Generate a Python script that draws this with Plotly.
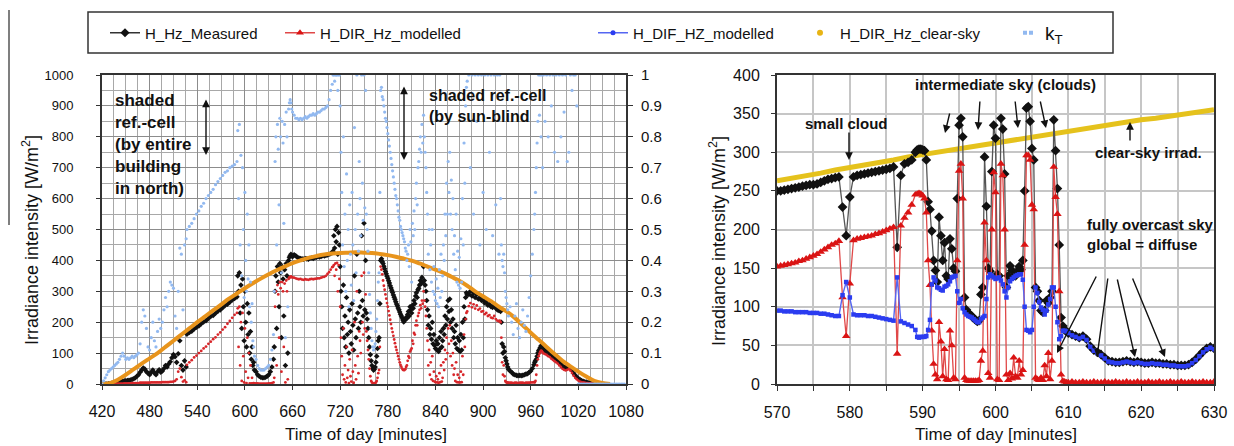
import plotly.graph_objects as go

W, H = 1234, 446
FONT = "Arial, 'Liberation Sans', sans-serif"
INK = "#111111"


def px(x):
    return x / W


def py(y):
    return 1 - y / H


# ---------------- whole day (left panel) ----------------
# sampling instants [min]; finer where the sky changes quickly
day_t = (list(range(420, 527, 2)) + list(range(527, 588, 3)) + list(range(590, 613))
         + list(range(614, 637, 2)) + list(range(637, 661)) + list(range(662, 711, 2))
         + list(range(711, 801)) + list(range(801, 881)) + list(range(882, 921, 2))
         + list(range(921, 933)) + list(range(934, 965, 2)) + list(range(965, 977))
         + list(range(978, 1079, 2)))

# measured global horizontal irradiance [W/m2]
day_meas = [
    0, 0, 0, 0, 1, 1, 2, 3, 4, 5, 6, 7, 8, 9, 10, 10, 11, 12, 13, 15,
    17, 20, 25, 30, 38, 45, 52, 48, 40, 35, 30, 38, 45, 36, 30, 40, 46, 38, 42, 50,
    60, 55, 65, 72, 85, 95, 88, 70, 98, 140, 60, 45, 75, 55,
    161, 167, 171, 178, 184, 188, 195, 201, 205, 212, 219, 222, 229, 236, 240, 247, 254, 258, 265, 272, 277,
    282, 350, 300, 360, 230, 320, 180, 340, 250, 140, 300, 200, 120, 260, 160, 230, 100, 170, 80, 120, 60, 70, 45,
    40, 30, 25, 22, 20, 20, 22, 25, 30, 40, 55, 80,
    120, 300, 350, 180, 380, 330, 250, 390, 360, 150, 380, 340, 220, 370, 60, 390, 350, 100, 400, 410, 415, 420, 415, 412,
    418, 415, 410, 408, 406, 405, 404, 406, 405, 404, 407, 408, 406, 409, 410, 412, 411, 413, 415, 414, 416, 418, 420, 422, 425,
    430, 480, 440, 500, 460, 510, 420, 490, 450, 380,
    300, 250, 180, 320, 150, 220, 120, 280, 160, 200,
    100, 240, 170, 130, 260, 190, 110, 350, 210, 150,
    420, 230, 180, 300, 250, 200, 480, 270, 220, 520,
    240, 400, 230, 210, 180, 150, 120, 95, 75, 60,
    50, 45, 48, 55, 70, 90, 115, 140, 150, 260,
    400, 405, 396, 390, 381, 373, 364, 357, 349, 342,
    334, 327, 318, 311, 303, 296, 288, 281, 274, 266,
    259, 253, 246, 240, 233, 226, 220, 214, 207, 201,
    205, 210, 215, 212, 225, 235, 220, 250, 240, 230,
    255, 245, 270, 260, 285, 295, 280, 305, 310, 320,
    335, 325, 345, 330, 380, 335, 320, 300, 270, 240,
    190, 220, 160, 180, 145, 200, 130, 160, 125, 115,
    140, 110, 130, 105, 150, 115, 170, 120, 140, 180,
    160, 220, 190, 250, 210, 270, 235, 275, 200, 240,
    180, 210, 150, 170, 130, 190, 115, 150, 110, 140,
    105, 160, 110, 200, 150, 250, 210, 280, 295, 290,
    290, 300, 285, 295, 280, 290, 275, 280, 270, 272, 262, 265, 255, 258, 250, 248, 255, 245, 240, 238,
    240, 235, 200, 130, 100, 120, 105, 85, 75, 65, 55, 48,
    42, 38, 32, 30, 28, 27, 28, 27, 28, 30, 32, 33, 38, 42, 50, 62,
    70, 75, 80, 90, 100, 108, 112, 118, 124, 122, 116, 112,
    108, 104, 100, 97, 92, 88, 84, 80, 76, 70, 64, 58, 55, 53, 55, 57, 52, 45, 35, 28,
    22, 18, 14, 11, 9, 7, 6, 5, 4, 3, 3, 2, 2, 1, 1, 1,
] + [None] * 15

# modelled direct horizontal irradiance [W/m2]
day_dir = [
    0, 0, 0, 0, 0, 0, 0, 0, 0, 0, 1, 1, 1, 1, 2, 2, 2, 2, 2, 3,
    3, 3, 3, 3, 4, 4, 4, 4, 4, 4, 4, 5, 5, 5, 5, 5, 5, 5, 6, 6,
    6, 6, 6, 7, 7, 8, 10, 15, 40, 50, 22, 8, 12, 6,
    62, 70, 77, 86, 92, 100, 107, 115, 121, 130, 137, 145, 151, 160, 167, 176, 184, 195, 204, 214, 224,
    230, 245, 120, 250, 60, 200, 10, 230, 90, 5, 180, 40, 3, 150, 20, 100, 2, 60, 2, 20, 2, 3, 2,
    2, 2, 1, 1, 1, 1, 1, 1, 2, 2, 3, 5,
    20, 250, 300, 60, 320, 290, 150, 330, 310, 40, 330, 300, 120, 325, 5, 335, 300, 15, 340, 345, 345, 348, 346, 345,
    344, 342, 340, 339, 340, 338, 337, 339, 338, 337, 339, 340, 339, 340, 341, 342, 342, 344, 346, 347, 350, 356, 362, 370, 378,
    380, 385, 350, 390, 370, 392, 300, 385, 340, 250,
    150, 90, 30, 180, 15, 60, 5, 120, 20, 45,
    3, 80, 25, 8, 110, 40, 4, 200, 60, 15,
    300, 90, 35, 170, 140, 100, 350, 200, 160, 360,
    180, 290, 170, 140, 110, 80, 50, 25, 10, 5,
    3, 2, 2, 3, 5, 10, 20, 35, 45, 120,
    380, 370, 355, 335, 318, 305, 290, 276, 262, 250,
    236, 222, 208, 194, 180, 168, 156, 144, 132, 120,
    110, 100, 90, 80, 70, 62, 56, 50, 46, 45,
    45, 48, 55, 60, 75, 90, 85, 105, 110, 115,
    140, 130, 165, 160, 190, 205, 190, 220, 230, 240,
    255, 245, 270, 260, 300, 270, 250, 220, 180, 140,
    60, 110, 30, 70, 15, 90, 10, 40, 8, 6,
    25, 5, 15, 4, 35, 6, 60, 8, 20, 70,
    45, 110, 80, 150, 100, 180, 130, 190, 90, 140,
    60, 100, 30, 50, 10, 70, 6, 30, 5, 20,
    5, 40, 6, 90, 30, 160, 120, 210, 230, 235,
    252, 262, 248, 258, 244, 254, 240, 244, 234, 236, 226, 230, 220, 223, 215, 213, 220, 210, 205, 203,
    205, 200, 150, 70, 30, 60, 25, 10, 6, 5, 4, 4,
    4, 4, 3, 4, 4, 3, 4, 4, 4, 3, 4, 4, 4, 5, 5, 6,
    5, 10, 30, 60, 80, 90, 98, 104, 108, 106, 102, 99,
    97, 94, 90, 87, 82, 78, 74, 70, 66, 60, 55, 49, 46, 44, 46, 48, 43, 36, 27, 20,
    15, 11, 8, 6, 5, 4, 3, 3, 2, 2, 1, 1, 1, 0, 0, 0,
] + [None] * 15

# clearness index k_T [-]
day_kt = [
    0.00, 0.01, 0.02, 0.03, 0.04, 0.045, 0.05, 0.055, 0.06, 0.065,
    0.07, 0.08, 0.09, 0.10, 0.09, 0.08, 0.085, 0.08, 0.085, 0.09,
    0.085, 0.09, 0.095, 0.10, 0.13, 0.20, 0.24, 0.22, 0.18, 0.12,
    0.11, 0.15, 0.20, 0.14, 0.12, 0.17, 0.21, 0.18, 0.20, 0.24,
    0.28, 0.25, 0.30, 0.33, 0.32, 0.31, 0.22, 0.18, 0.30, 0.44,
    0.42, 0.24, 0.45, 0.47,
    0.50, 0.51, 0.52, 0.535, 0.55, 0.56, 0.575, 0.585, 0.60, 0.61, 0.62, 0.63, 0.645, 0.655, 0.665,
    0.675, 0.685, 0.69, 0.70, 0.705, 0.71,
    0.72, 0.82, 0.60, 0.84, 0.45, 0.74, 0.35, 0.70, 0.50, 0.28, 0.62, 0.40, 0.30, 0.55, 0.34, 0.45,
    0.25, 0.33, 0.20, 0.26, 0.14, 0.12, 0.09,
    0.08, 0.06, 0.05, 0.045, 0.045, 0.045, 0.05, 0.055, 0.06, 0.08, 0.11, 0.16,
    0.30, 0.72, 0.80, 0.45, 0.84, 0.76, 0.58, 0.86, 0.80, 0.36, 0.85, 0.78, 0.52, 0.84, 0.15, 0.88,
    0.80, 0.25, 0.89, 0.91, 0.92, 0.91, 0.89, 0.88,
    0.87, 0.86, 0.86, 0.855, 0.86, 0.855, 0.86, 0.865, 0.86, 0.865, 0.87, 0.87, 0.875, 0.87, 0.875,
    0.88, 0.88, 0.885, 0.89, 0.89, 0.895, 0.90, 0.92, 0.95, 0.97,
    1.0, 1.0, 0.98, 1.0, 1.0, 1.0, 0.95, 1.0, 1.0, 0.90,
    0.75, 0.62, 0.45, 0.80, 0.38, 0.55, 0.30, 0.68, 0.40, 0.50,
    0.25, 0.58, 0.42, 0.32, 0.62, 0.45, 0.27, 0.83, 0.50, 0.36,
    1.0, 0.55, 0.43, 0.72, 0.60, 0.48, 1.0, 0.65, 0.53, 1.0,
    0.57, 0.95, 0.55, 0.50, 0.43, 0.36, 0.29, 0.23, 0.18, 0.14,
    0.12, 0.11, 0.12, 0.13, 0.17, 0.21, 0.27, 0.33, 0.36, 0.62,
    0.95, 0.96, 0.93, 0.92, 0.90, 0.88, 0.86, 0.85, 0.83, 0.81,
    0.79, 0.77, 0.75, 0.73, 0.71, 0.69, 0.67, 0.65, 0.63, 0.61,
    0.60, 0.58, 0.56, 0.54, 0.53, 0.51, 0.50, 0.49, 0.48, 0.47,
    0.46, 0.44, 0.43, 0.40, 0.42, 0.45, 0.38, 0.50, 0.46, 0.33,
    0.52, 0.48, 0.56, 0.50, 0.60, 0.65, 0.58, 0.70, 0.72, 0.76,
    0.80, 0.75, 0.84, 0.78, 0.87, 0.80, 0.75, 0.70, 0.62, 0.55,
    0.42, 0.50, 0.37, 0.45, 0.33, 0.50, 0.30, 0.38, 0.29, 0.27,
    0.34, 0.26, 0.31, 0.25, 0.37, 0.28, 0.42, 0.30, 0.35, 0.45,
    0.40, 0.55, 0.48, 0.65, 0.55, 0.72, 0.62, 0.75, 0.55, 0.66,
    0.50, 0.60, 0.42, 0.48, 0.37, 0.55, 0.33, 0.43, 0.32, 0.41,
    0.31, 0.47, 0.33, 0.60, 0.45, 0.78, 0.65, 0.90, 0.96, 0.98,
    1.0, 0.70, 1.0, 0.55, 1.0, 0.85, 1.0, 0.45, 1.0, 0.62,
    1.0, 0.50, 1.0, 0.75, 1.0, 0.48, 1.0, 0.58, 1.0, 0.42,
    1.0, 0.60, 0.45, 0.40, 0.38, 0.42, 0.36, 0.30, 0.28, 0.26, 0.24, 0.22,
    0.25, 0.20, 0.16, 0.22, 0.26, 0.18, 0.15, 0.20, 0.24, 0.19, 0.17, 0.22, 0.28, 0.35, 0.42, 0.50,
    0.55, 0.62, 0.70, 0.78, 0.85, 1.0, 0.87, 1.0, 0.80, 1.0, 0.70, 1.0,
    0.85, 1.0, 0.80, 1.0, 0.90, 1.0, 0.75, 1.0, 0.72, 1.0,
    0.80, 1.0, 0.88, 1.0, 0.72, 0.75, 1.0, 0.95, 1.0, 1.0,
    0.90,
] + [0.0] * 30

# clear-sky irradiance over the day [W/m2]
cs_day_t = list(range(420, 1061, 10))
cs_day_v = [
    0, 3, 14, 30, 48, 66, 83, 100, 120, 140,
    160, 180, 200, 219, 238, 257, 276, 293, 310, 326,
    341, 355, 368, 380, 391, 400, 408, 414, 419, 422,
    424, 425, 426, 425, 424, 421, 417, 412, 406, 399,
    390, 380, 370, 360, 347, 334, 318, 300, 284, 268,
    250, 234, 214, 190, 166, 143, 120, 97, 75, 57,
    40, 24, 10, 3, 0,
]

# ---------------- 570-630 min detail (right panel) ----------------
zoom_t = ([570 + 0.5 * i for i in range(39)] + [589.25 + 0.25 * i for i in range(84)]
          + [610.5 + 0.5 * i for i in range(40)])

zoom_meas = [
    250, 250, 251, 252, 253, 254, 255, 256, 257, 258, 258, 259, 261, 263, 265, 266, 267, 268, 229, 192,
    242, 268, 270, 271, 272, 273, 274, 275, 276, 277, 278, 279, 281, 177, 270, 285, 287, 290, 300,
    303, 304, 304, 303, 302, 290, 236, 226, 198, 160, 147, 132, 216, 192, 160, 183, 140, 136, 188, 175,
    150, 146, 240, 335, 344, 320, 112, 96, 92, 90, 88, 85, 83, 81, 82, 116, 125, 294, 230, 150,
    146, 275, 335, 318, 142, 140, 344, 330, 272, 125, 140, 153, 147, 140, 140, 146, 152, 148, 160, 250,
    357, 359, 340, 305, 290, 125, 120, 108, 95, 93, 95, 108, 105, 112, 120, 342, 302, 253, 180, 86,
    75, 70, 68, 66,
    64, 62, 60, 62, 58, 49, 44, 41, 38, 34, 30, 29, 28, 28, 29, 30, 29, 28, 29, 28,
    27, 27, 28, 27, 27, 26, 26, 25, 25, 24, 24, 24, 25, 28, 32, 37, 42, 46, 48, 46,
]
zoom_dir = [
    152, 153, 154, 155, 156, 157, 159, 160, 162, 164, 166, 168, 171, 174, 177, 180, 182, 185, 112, 62,
    130, 186, 188, 189, 190, 191, 192, 194, 195, 197, 199, 201, 203, 39, 205, 215, 222, 232, 245,
    246, 247, 246, 244, 240, 222, 160, 128, 69, 26, 12, 6, 80, 55, 10, 45, 6, 5, 69, 50,
    8, 6, 160, 276, 285, 240, 8, 5, 4, 4, 4, 4, 4, 4, 5, 30, 43, 209, 160, 14,
    8, 200, 274, 248, 6, 5, 285, 270, 200, 12, 5, 14, 7, 34, 10, 8, 30, 12, 18, 180,
    296, 296, 290, 232, 226, 8, 6, 5, 8, 5, 24, 10, 40, 6, 30, 281, 242, 220, 120, 12,
    4, 3, 2, 2,
    3, 2, 2, 3, 2, 2, 3, 2, 2, 3, 2, 2, 3, 2, 2, 3, 2, 2, 3, 2,
    2, 3, 2, 2, 3, 2, 2, 3, 2, 2, 3, 2, 2, 3, 2, 2, 3, 2, 2, 3,
]
zoom_dif = [
    95, 95, 94, 94, 94, 93, 93, 93, 93, 92, 92, 92, 91, 91, 90, 89, 88, 88, 115, 132,
    112, 90, 89, 89, 89, 88, 88, 87, 86, 85, 84, 83, 82, 138, 81, 79, 77, 75, 70,
    61, 60, 61, 61, 61, 62, 70, 83, 129, 138, 134, 125, 124, 122, 121, 126, 127, 129, 133, 138,
    139, 140, 120, 105, 110, 98, 93, 90, 88, 87, 86, 84, 82, 80, 80, 84, 86, 88, 110, 138,
    142, 140, 138, 136, 137, 138, 134, 129, 120, 112, 125, 133, 136, 138, 140, 141, 142, 142, 135, 100,
    70, 69, 67, 70, 100, 125, 118, 106, 99, 96, 90, 95, 103, 110, 125, 125, 100, 80, 58, 62,
    69, 69, 68, 66,
    63, 61, 59, 61, 57, 48, 43, 40, 37, 33, 29, 28, 27, 27, 28, 29, 28, 27, 28, 27,
    26, 26, 27, 26, 26, 25, 25, 24, 24, 23, 23, 23, 24, 27, 31, 36, 41, 45, 47, 45,
]
cs_zoom_t = list(range(570, 631, 2))
cs_zoom_v = [
    263, 266, 270, 273, 277, 280, 284, 287, 290, 294,
    297, 300, 303, 307, 310, 313, 316, 319, 322, 325,
    328, 331, 334, 336, 339, 342, 344, 347, 350, 352, 355,
]

# colours
C_MEAS = "#111111"
C_DIR = "#D8262A"
C_DIF = "#2B3CF0"
C_CS_DAY = "#E8941C"
C_CS = "#E5C21C"
C_KT = "#92B9F0"

fig = go.Figure()

# ---- left panel traces ----
fig.add_trace(go.Scatter(x=day_t, y=day_meas, mode="markers", xaxis="x", yaxis="y",
                         marker=dict(symbol="diamond", size=4.3, color=C_MEAS),
                         showlegend=False, hoverinfo="skip"))
fig.add_trace(go.Scatter(x=day_t, y=day_dir, mode="markers", xaxis="x", yaxis="y",
                         marker=dict(size=2.8, color=C_DIR),
                         showlegend=False, hoverinfo="skip"))
fig.add_trace(go.Scatter(x=cs_day_t, y=cs_day_v, mode="lines", xaxis="x", yaxis="y",
                         line=dict(color=C_CS_DAY, width=4, shape="spline"),
                         showlegend=False, hoverinfo="skip"))
fig.add_trace(go.Scatter(x=day_t, y=day_kt, mode="markers", xaxis="x", yaxis="y2",
                         marker=dict(size=3.2, color=C_KT), cliponaxis=False,
                         showlegend=False, hoverinfo="skip"))

# ---- right panel traces ----
fig.add_trace(go.Scatter(x=cs_zoom_t, y=cs_zoom_v, mode="lines", xaxis="x2", yaxis="y3",
                         line=dict(color=C_CS, width=5),
                         showlegend=False, hoverinfo="skip"))
fig.add_trace(go.Scatter(x=zoom_t, y=zoom_meas, mode="lines+markers", xaxis="x2", yaxis="y3",
                         line=dict(color="#555555", width=1.3),
                         marker=dict(symbol="diamond", size=7.5, color=C_MEAS),
                         showlegend=False, hoverinfo="skip"))
fig.add_trace(go.Scatter(x=zoom_t, y=zoom_dir, mode="lines+markers", xaxis="x2", yaxis="y3",
                         line=dict(color="#E04848", width=1.3),
                         marker=dict(symbol="triangle-up", size=7.5, color="#DA1414"),
                         showlegend=False, hoverinfo="skip"))
fig.add_trace(go.Scatter(x=zoom_t, y=zoom_dif, mode="lines+markers", xaxis="x2", yaxis="y3",
                         line=dict(color="#5566F2", width=1.4),
                         marker=dict(symbol="square", size=4.5, color=C_DIF),
                         showlegend=False, hoverinfo="skip"))

# ---- legend entries (one legend each, placed inside a common frame) ----
legend_items = [
    ("H_Hz_Measured", dict(mode="lines+markers", line=dict(color="#333333", width=1.5),
                           marker=dict(symbol="diamond", size=7, color=C_MEAS)), 145, 15),
    ("H_DIR_Hz_modelled", dict(mode="lines+markers", line=dict(color="#E04848", width=1.5),
                               marker=dict(symbol="triangle-up", size=7, color="#DA1414")), 320, 15),
    ("H_DIF_HZ_modelled", dict(mode="lines+markers", line=dict(color="#5566F2", width=1.5),
                               marker=dict(symbol="circle", size=5, color=C_DIF)), 633, 15),
    ("H_DIR_Hz_clear-sky", dict(mode="markers",
                                marker=dict(symbol="circle", size=6, color="#E8B414")), 840, 15),
    ("k<sub>T</sub>", dict(mode="lines", line=dict(color=C_KT, width=4,
                                                   dash="0px,13px,4px,2px,4px,60px")), 1045, 19),
]
legend_layout = {}
for i, (name, style, text_x, fsize) in enumerate(legend_items):
    key = "legend" if i == 0 else f"legend{i + 1}"
    fig.add_trace(go.Scatter(x=[None], y=[None], name=name, xaxis="x", yaxis="y",
                             legend=key, showlegend=True, hoverinfo="skip", **style))
    legend_layout[key] = dict(
        x=px(text_x - 40), y=py(33), xanchor="left", yanchor="middle",
        orientation="h", bgcolor="rgba(0,0,0,0)", borderwidth=0,
        font=dict(family=FONT, size=fsize, color=INK),
    )

axis_common = dict(zeroline=False, fixedrange=True, automargin=False)
tick_font_16 = dict(family=FONT, size=16, color=INK)

# ---- annotations ----
annotations = []


def arrow(x0, y0, x1, y1, both=False):
    annotations.append(dict(
        x=px(x1), y=py(y1), xref="paper", yref="paper", ax=x0 - x1, ay=y0 - y1,
        axref="pixel", ayref="pixel", text="", showarrow=True,
        arrowhead=2, arrowsize=1.1, arrowwidth=1.4, arrowcolor=INK,
        arrowside="end+start" if both else "end", standoff=0, startstandoff=0))


def label(x, y, text, size=15, xanchor="center", yanchor="middle", bold=True, angle=0):
    annotations.append(dict(
        x=px(x), y=py(y), xref="paper", yref="paper", text=f"<b>{text}</b>" if bold else text,
        showarrow=False, xanchor=xanchor, yanchor=yanchor, align="left", textangle=angle,
        font=dict(family=FONT, size=size, color=INK)))


# axis titles
label(30, 240, "Irradiance intensity [W/m<sup>2</sup>]", size=18, bold=False, angle=-90)
label(717, 241, "Irradiance intensity [W/m<sup>2</sup>]", size=18, bold=False, angle=-90)
label(366, 434, "Time of day [minutes]", size=17, bold=False)
label(996, 434, "Time of day [minutes]", size=17, bold=False)

# notes on the day plot
label(113, 89, "shaded<br>ref.-cell<br>(by entire<br>building<br>in north)", size=17,
      xanchor="left", yanchor="top")
arrow(206, 98, 206, 155, both=True)
label(427, 85, "shaded ref.-cell<br>(by sun-blind", size=16, xanchor="left", yanchor="top")
arrow(404, 85, 404, 160, both=True)

# notes on the detail plot
label(846, 123, "small cloud", size=15)
arrow(849, 131, 849, 160)
label(1005, 84, "intermediate sky (clouds)", size=15)
arrow(950, 112, 945, 133)
arrow(980, 100, 978, 130)
arrow(1015, 100, 1018, 128)
arrow(1040, 100, 1046, 128)
label(1148, 152, "clear-sky irrad.", size=15)
arrow(1130, 142, 1130, 122)
label(1085, 235, "fully overcast sky<br>global = diffuse", size=15, xanchor="left")
arrow(1097, 275, 1057, 353)
arrow(1108, 277, 1097, 357)
arrow(1117, 278, 1135, 357)
arrow(1132, 277, 1165, 357)

y_dom = [py(384), py(75)]

fig.update_layout(
    width=W, height=H,
    margin=dict(l=0, r=0, t=0, b=0),
    paper_bgcolor="white", plot_bgcolor="white",
    template="none",
    hovermode=False,
    font=dict(family=FONT, color=INK),
    xaxis=dict(domain=[px(102), px(626)], range=[420, 1080], tick0=420, dtick=60,
               ticks="outside", ticklen=4, tickwidth=1.3, tickcolor="#333333",
               showline=True, linecolor="#333333", linewidth=2, mirror=True,
               showgrid=True, gridcolor="#8c8c8c", gridwidth=1.2,
               minor=dict(dtick=15, showgrid=True, gridcolor="#a8a8a8", gridwidth=1),
               tickfont=tick_font_16, ticklabelstandoff=8, anchor="y", **axis_common),
    yaxis=dict(domain=y_dom, range=[0, 1000], dtick=100,
               ticks="outside", ticklen=4, tickwidth=1.3, tickcolor="#333333",
               showline=True, linecolor="#333333", linewidth=2,
               showgrid=True, gridcolor="#8c8c8c", gridwidth=1.2,
               minor=dict(dtick=50, showgrid=True, gridcolor="#a8a8a8", gridwidth=1),
               tickfont=dict(family=FONT, size=13, color=INK), ticklabelstandoff=20,
               anchor="x", **axis_common),
    yaxis2=dict(overlaying="y", side="right", anchor="x", range=[0, 1], dtick=0.1,
                ticks="outside", ticklen=5, tickwidth=1.3, tickcolor="#333333",
                showline=True, linecolor="#333333", linewidth=2, showgrid=False,
                tickfont=dict(family=FONT, size=15, color=INK), ticklabelstandoff=5,
                **axis_common),
    xaxis2=dict(domain=[px(777), px(1214)], range=[570, 630], tick0=570, dtick=10,
                ticks="outside", ticklen=5, tickwidth=1.3, tickcolor="#333333",
                showline=True, linecolor="#333333", linewidth=2, mirror=True,
                showgrid=True, gridcolor="#c6c6c6", gridwidth=1.5,
                minor=dict(dtick=5, showgrid=True, gridcolor="#c6c6c6", gridwidth=1.5,
                           ticks="outside", ticklen=5, tickcolor="#333333"),
                tickfont=tick_font_16, ticklabelstandoff=8, anchor="y3", **axis_common),
    yaxis3=dict(domain=y_dom, range=[0, 400], dtick=50,
                ticks="outside", ticklen=4, tickwidth=1.3, tickcolor="#333333",
                showline=True, linecolor="#333333", linewidth=2, mirror=True,
                showgrid=True, gridcolor="#c6c6c6", gridwidth=1.5,
                tickfont=tick_font_16, ticklabelstandoff=8, anchor="x2", **axis_common),
    shapes=[
        dict(type="rect", xref="paper", yref="paper", x0=px(88), x1=px(1113),
             y0=py(53), y1=py(12), line=dict(color="#333333", width=1.5),
             fillcolor="white", layer="below"),
        dict(type="line", xref="paper", yref="paper", x0=px(9), x1=px(9),
             y0=py(10), y1=py(225), line=dict(color="#555555", width=1.5)),
    ],
    annotations=annotations,
    **legend_layout,
)

fig.write_html("out.html")
